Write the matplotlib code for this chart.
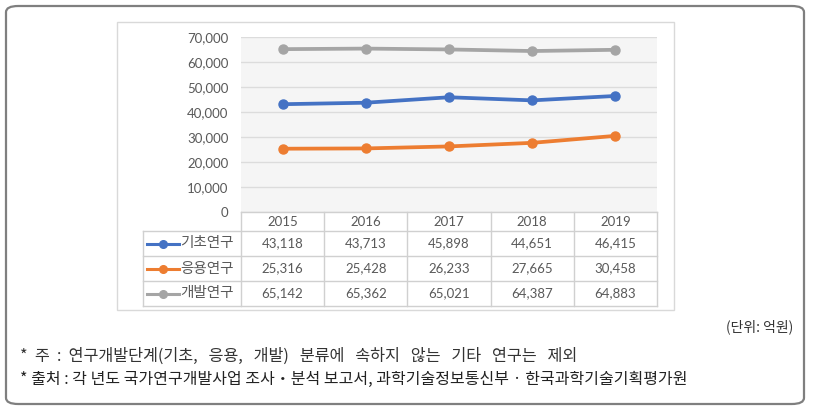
import matplotlib
matplotlib.use("Agg")
import matplotlib.pyplot as plt
from matplotlib.patches import FancyBboxPatch, Rectangle
from matplotlib.lines import Line2D

plt.rcParams['font.family'] = ['Noto Sans CJK KR', 'DejaVu Sans']

# 데이터
years = ['2015', '2016', '2017', '2018', '2019']
series_names = ['기초연구', '응용연구', '개발연구']
basic = [43118, 43713, 45898, 44651, 46415]
applied = [25316, 25428, 26233, 27665, 30458]
development = [65142, 65362, 65021, 64387, 64883]
series_values = [basic, applied, development]
colors = ['#4472C4', '#ED7D31', '#A5A5A5']
yticks = [0, 10000, 20000, 30000, 40000, 50000, 60000, 70000]

note1 = '*  주  :  연구개발단계(기초,   응용,   개발)   분류에   속하지   않는   기타   연구는   제외'
note2 = '* 출처 : 각 년도 국가연구개발사업 조사‧분석 보고서, 과학기술정보통신부 · 한국과학기술기획평가원'
unit = '(단위: 억원)'

W, H = 817, 409
fig = plt.figure(figsize=(W / 100, H / 100), dpi=100)
num_font = ['Lato', 'DejaVu Sans']
txt_gray = '#595959'


def box(x0, y0, x1, y1):
    # 픽셀 좌표(위쪽 기준) -> figure 좌표
    return [x0 / W, 1 - y1 / H, (x1 - x0) / W, (y1 - y0) / H]


# 바깥 둥근 테두리
outer = FancyBboxPatch((6 / W, 5 / H), 798 / W, 398 / H,
                       boxstyle="round,pad=0,rounding_size=0.015",
                       transform=fig.transFigure, facecolor='none',
                       edgecolor='#7f7f7f', linewidth=1.6, zorder=-5)
fig.patches.append(outer)

# 차트 영역 테두리
fig.patches.append(Rectangle((117 / W, 1 - 310 / H), (674 - 117) / W, (310 - 22) / H,
                             transform=fig.transFigure, facecolor='none',
                             edgecolor='#d9d9d9', linewidth=1, zorder=-5))

# -------------------------------
# 꺾은선 그래프
# -------------------------------
ax = fig.add_axes(box(241, 37, 657, 212))
ax.set_facecolor('#f5f5f5')
x = range(len(years))
for vals, c in zip(series_values, colors):
    ax.plot(x, vals, color=c, linewidth=2.7, marker='o', markersize=6.5, zorder=3)
ax.set_xlim(-0.5, len(years) - 0.5)
ax.set_ylim(0, 70000)
ax.set_yticks(yticks)
ax.set_yticklabels([f'{v:,}' for v in yticks], fontsize=9.5, color=txt_gray,
                   family=num_font)
ax.tick_params(axis='y', length=0, pad=9)
ax.set_xticks([])
ax.grid(axis='y', color='#dcdcdc', linewidth=1)
ax.set_axisbelow(True)
for s in ax.spines.values():
    s.set_visible(False)

# -------------------------------
# 데이터 표
# -------------------------------
tx0, tx1 = 143, 657
ty0, ty1 = 212, 306
tab = fig.add_axes(box(tx0, ty0, tx1, ty1))
tab.set_xlim(tx0, tx1)
tab.set_ylim(ty1, ty0)
tab.axis('off')

col_x0 = 241
col_w = (tx1 - col_x0) / len(years)
row_edges = [212, 231, 256, 281, 306]
gc = '#d0d0d0'

# 세로선
for i in range(len(years) + 1):
    xx = col_x0 + i * col_w
    tab.plot([xx, xx], [ty0, ty1], color=gc, linewidth=1, clip_on=False)
tab.plot([tx0, tx0], [row_edges[1], ty1], color=gc, linewidth=1, clip_on=False)
# 가로선
tab.plot([col_x0, tx1], [ty0, ty0], color=gc, linewidth=1, clip_on=False)
for yy in row_edges[1:]:
    tab.plot([tx0, tx1], [yy, yy], color=gc, linewidth=1, clip_on=False)

# 연도 헤더
for i, yr in enumerate(years):
    tab.text(col_x0 + (i + 0.5) * col_w, (row_edges[0] + row_edges[1]) / 2, yr,
             ha='center', va='center', fontsize=9.5, color=txt_gray,
             family=num_font)

# 행: 범례 + 값
for r, (name, vals, c) in enumerate(zip(series_names, series_values, colors)):
    yc = (row_edges[r + 1] + row_edges[r + 2]) / 2
    tab.add_line(Line2D([147, 179], [yc, yc], color=c, linewidth=2.2))
    tab.plot([163], [yc], marker='o', markersize=5.5, color=c)
    tab.text(180, yc, name, ha='left', va='center', fontsize=10.5, color=txt_gray)
    for i, v in enumerate(vals):
        tab.text(col_x0 + (i + 0.5) * col_w, yc, f'{v:,}', ha='center', va='center',
                 fontsize=9.5, color=txt_gray, family=num_font)

# -------------------------------
# 단위 및 주석
# -------------------------------
fig.text(793 / W, 1 - 327 / H, unit, ha='right', va='center', fontsize=10, color='#333333')
fig.text(20 / W, 1 - 356 / H, note1, ha='left', va='center', fontsize=11.7, color='#333333')
fig.text(20 / W, 1 - 379 / H, note2, ha='left', va='center', fontsize=11.5, color='#222222')

fig.savefig('out.png', dpi=100)
